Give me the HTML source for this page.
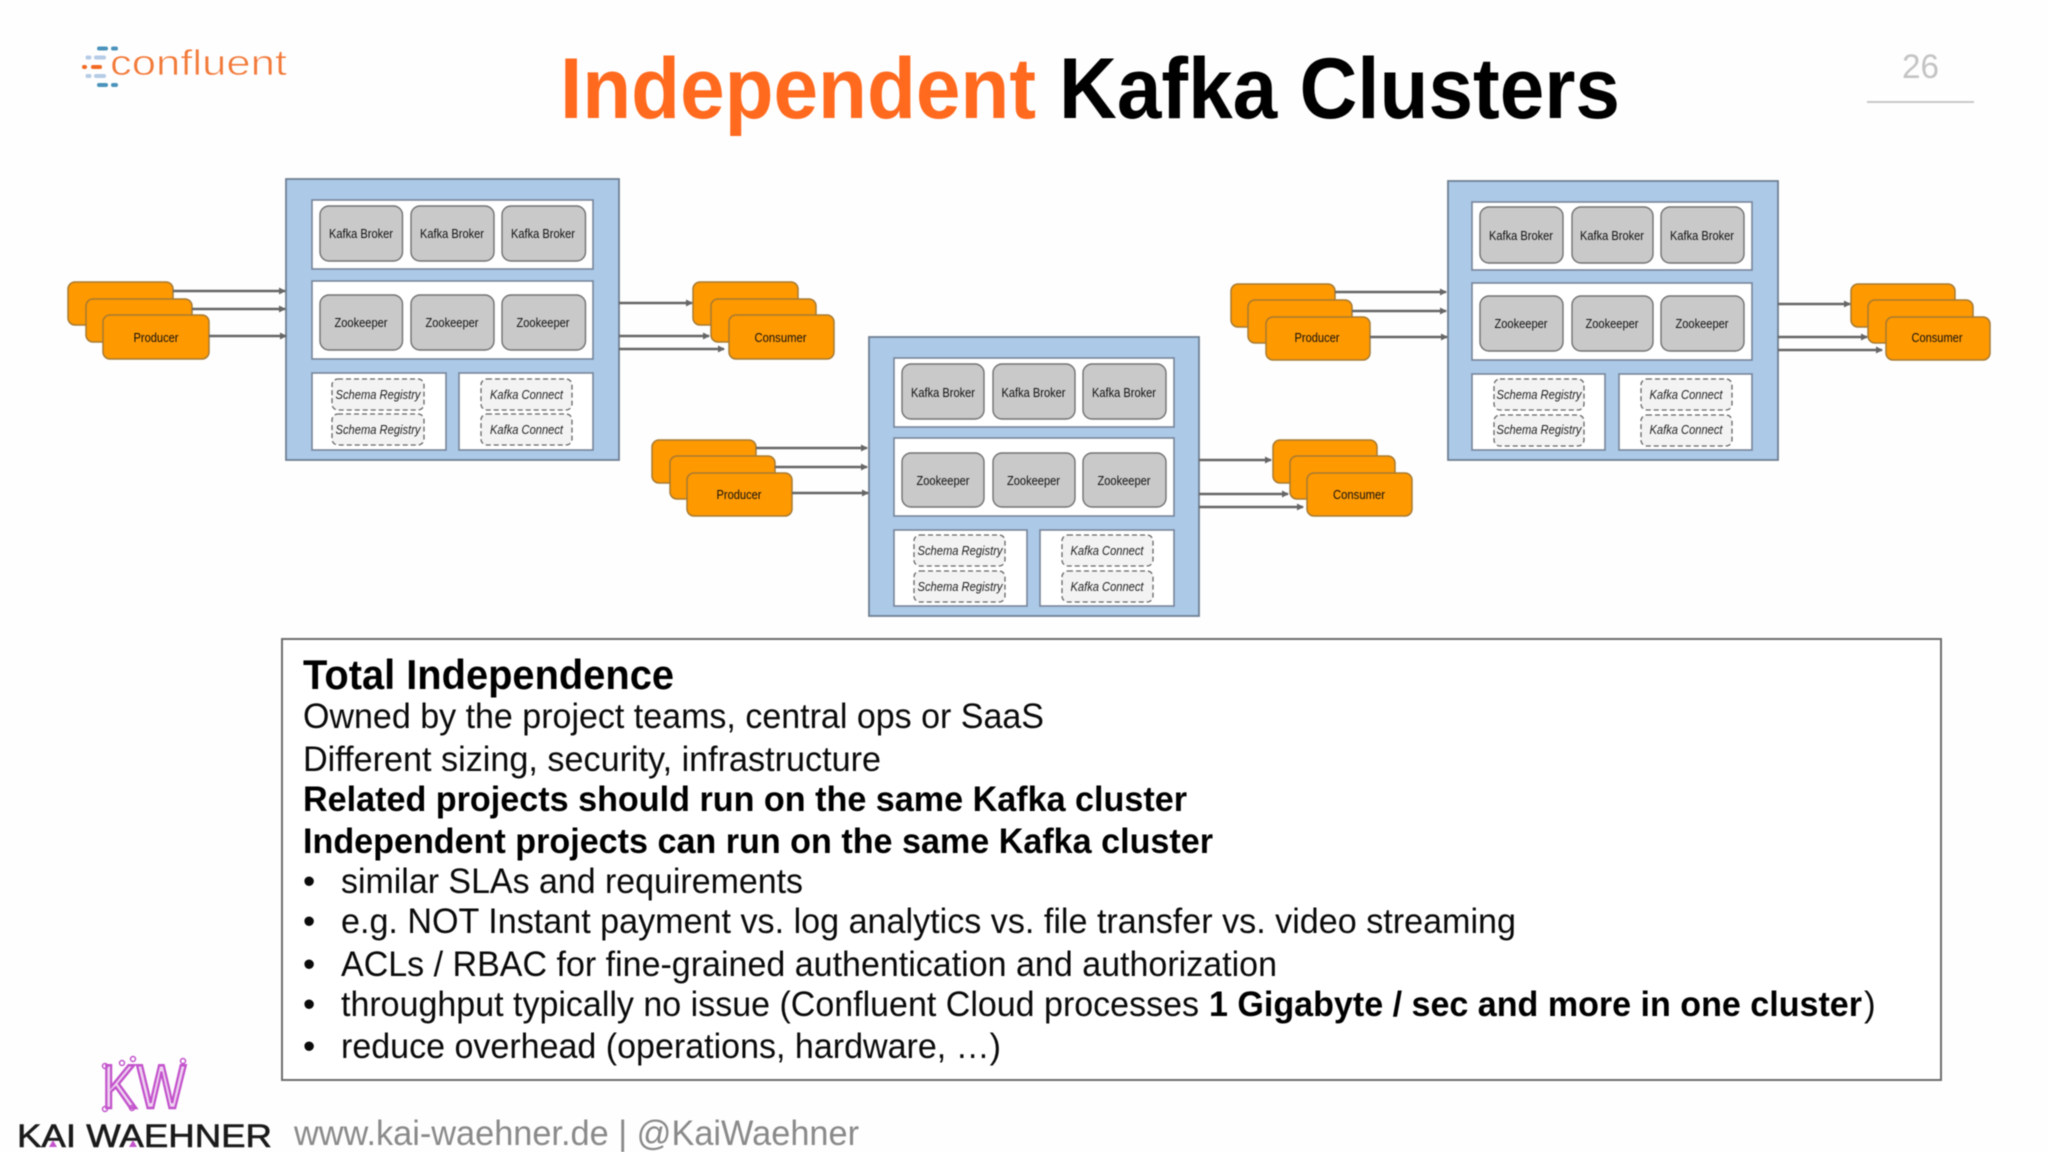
<!DOCTYPE html>
<html><head><meta charset="utf-8"><title>Independent Kafka Clusters</title>
<style>
html,body{margin:0;padding:0;background:#fefefe}
svg{display:block;filter:blur(.45px)}
text{font-family:"Liberation Sans",sans-serif}
.c{fill:#acc9e8;stroke:#6f7f92;stroke-width:1.8}
.p{fill:#fff;stroke:#76859a;stroke-width:1.6}
.n{fill:#c9c9c9;stroke:#727272;stroke-width:1.4}
.d{fill:#f3f3f3;stroke:#666;stroke-width:1.3;stroke-dasharray:5 3}
.o{fill:#ff9900;stroke:#a67a33;stroke-width:1.5}
.a{stroke:#666;stroke-width:2.4;fill:none;marker-end:url(#ah)}
.t{font-size:13px;fill:#111;text-anchor:middle}
.i{font-size:13px;fill:#222;text-anchor:middle;font-style:italic}
.b{font-size:35px;fill:#0a0a0a}
.bb{font-size:35px;fill:#000;font-weight:bold}
</style></head>
<body>
<svg width="2048" height="1152" viewBox="0 0 2048 1152" xmlns="http://www.w3.org/2000/svg">
<defs><marker id="ah" markerWidth="7" markerHeight="8" refX="6" refY="3.5" orient="auto" markerUnits="userSpaceOnUse"><path d="M0 0L7 3.5L0 7z" fill="#666"/></marker></defs>
<rect width="2048" height="1152" fill="#fefefe"/>

<!-- confluent logo -->
<g fill="#4b93bb"><rect x="97" y="46.500" width="11" height="4" rx="2"/><rect x="111" y="46.500" width="7" height="4" rx="2"/><rect x="97" y="83" width="11" height="4" rx="2"/><rect x="111" y="83" width="7" height="4" rx="2"/></g>
<g fill="#b5cbe6"><rect x="85.500" y="55.500" width="6" height="4" rx="2"/><rect x="94" y="55.500" width="12" height="4" rx="2"/><rect x="85.500" y="74" width="6" height="4" rx="2"/><rect x="94" y="74" width="12" height="4" rx="2"/></g>
<g fill="#f26a22"><rect x="82" y="65" width="5" height="4" rx="2"/><rect x="91" y="65" width="11" height="4" rx="2"/></g>
<text x="110" y="75" font-size="36" fill="#f27a3a" stroke="#fff" stroke-width=".7" textLength="177" lengthAdjust="spacingAndGlyphs">confluent</text>

<!-- title -->
<text x="560" y="118" font-size="86" font-weight="bold" fill="#ff6a1f" textLength="476" lengthAdjust="spacingAndGlyphs">Independent</text>
<text x="1059" y="118" font-size="86" font-weight="bold" fill="#000" textLength="561" lengthAdjust="spacingAndGlyphs">Kafka Clusters</text>
<text x="1902" y="78" font-size="34" fill="#c4c4c4" textLength="37" lengthAdjust="spacingAndGlyphs">26</text>
<line x1="1867" y1="102" x2="1974" y2="102" stroke="#c9c9c9" stroke-width="2"/>

<!-- cluster 1 -->
<rect class="c" x="286" y="179" width="333" height="281"/>
<rect class="p" x="312" y="200" width="281" height="69"/>
<rect class="n" x="320" y="206" width="82.500" height="55" rx="9"/>
<rect class="n" x="411" y="206" width="83" height="55" rx="9"/>
<rect class="n" x="502" y="206" width="83.500" height="55" rx="9"/>
<text class="t" x="361" y="238" textLength="64" lengthAdjust="spacingAndGlyphs">Kafka Broker</text>
<text class="t" x="452" y="238" textLength="64" lengthAdjust="spacingAndGlyphs">Kafka Broker</text>
<text class="t" x="543" y="238" textLength="64" lengthAdjust="spacingAndGlyphs">Kafka Broker</text>
<rect class="p" x="312" y="281" width="281" height="78"/>
<rect class="n" x="320" y="295" width="82.500" height="55" rx="9"/>
<rect class="n" x="411" y="295" width="83" height="55" rx="9"/>
<rect class="n" x="502" y="295" width="83.500" height="55" rx="9"/>
<text class="t" x="361" y="327" textLength="53" lengthAdjust="spacingAndGlyphs">Zookeeper</text>
<text class="t" x="452" y="327" textLength="53" lengthAdjust="spacingAndGlyphs">Zookeeper</text>
<text class="t" x="543" y="327" textLength="53" lengthAdjust="spacingAndGlyphs">Zookeeper</text>
<rect class="p" x="312" y="373" width="134" height="77"/>
<rect class="p" x="459" y="373" width="134" height="77"/>
<rect class="d" x="332" y="379" width="92" height="31" rx="6"/>
<rect class="d" x="332" y="414" width="92" height="31" rx="6"/>
<rect class="d" x="481" y="379" width="91" height="31" rx="6"/>
<rect class="d" x="481" y="414" width="91" height="31" rx="6"/>
<text class="i" x="378" y="399" textLength="85" lengthAdjust="spacingAndGlyphs">Schema Registry</text>
<text class="i" x="378" y="434" textLength="85" lengthAdjust="spacingAndGlyphs">Schema Registry</text>
<text class="i" x="526.500" y="399" textLength="73" lengthAdjust="spacingAndGlyphs">Kafka Connect</text>
<text class="i" x="526.500" y="434" textLength="73" lengthAdjust="spacingAndGlyphs">Kafka Connect</text>
<rect class="o" x="68" y="282" width="105" height="43" rx="7"/>
<rect class="o" x="86" y="299" width="106" height="43" rx="7"/>
<rect class="o" x="103" y="315" width="106" height="44" rx="7"/>
<text class="t" x="156" y="342" textLength="45" lengthAdjust="spacingAndGlyphs">Producer</text>
<line class="a" x1="173" y1="291" x2="285" y2="291"/>
<line class="a" x1="192" y1="309" x2="285" y2="309"/>
<line class="a" x1="209" y1="336" x2="286" y2="336"/>
<rect class="o" x="693" y="282" width="105" height="43" rx="7"/>
<rect class="o" x="711" y="299" width="105" height="43" rx="7"/>
<rect class="o" x="729" y="315" width="105" height="44" rx="7"/>
<text class="t" x="780.500" y="342" textLength="52" lengthAdjust="spacingAndGlyphs">Consumer</text>
<line class="a" x1="619" y1="303" x2="692" y2="303"/>
<line class="a" x1="619" y1="336" x2="709" y2="336"/>
<line class="a" x1="619" y1="349" x2="724" y2="349"/>

<!-- cluster 2 -->
<rect class="c" x="869" y="337" width="330" height="279"/>
<rect class="p" x="894" y="358" width="280" height="69"/>
<rect class="n" x="902" y="364" width="82" height="55" rx="9"/>
<rect class="n" x="993" y="364" width="82" height="55" rx="9"/>
<rect class="n" x="1083" y="364" width="83" height="55" rx="9"/>
<text class="t" x="943" y="397" textLength="64" lengthAdjust="spacingAndGlyphs">Kafka Broker</text>
<text class="t" x="1033.500" y="397" textLength="64" lengthAdjust="spacingAndGlyphs">Kafka Broker</text>
<text class="t" x="1124" y="397" textLength="64" lengthAdjust="spacingAndGlyphs">Kafka Broker</text>
<rect class="p" x="894" y="438" width="280" height="78"/>
<rect class="n" x="902" y="453" width="82" height="54" rx="9"/>
<rect class="n" x="993" y="453" width="82" height="54" rx="9"/>
<rect class="n" x="1083" y="453" width="83" height="54" rx="9"/>
<text class="t" x="943" y="485" textLength="53" lengthAdjust="spacingAndGlyphs">Zookeeper</text>
<text class="t" x="1033.500" y="485" textLength="53" lengthAdjust="spacingAndGlyphs">Zookeeper</text>
<text class="t" x="1124" y="485" textLength="53" lengthAdjust="spacingAndGlyphs">Zookeeper</text>
<rect class="p" x="894" y="530" width="133" height="76"/>
<rect class="p" x="1040" y="530" width="134" height="76"/>
<rect class="d" x="914" y="535" width="91" height="31" rx="6"/>
<rect class="d" x="914" y="571" width="91" height="31" rx="6"/>
<rect class="d" x="1062" y="535" width="91" height="31" rx="6"/>
<rect class="d" x="1062" y="571" width="91" height="31" rx="6"/>
<text class="i" x="960" y="555" textLength="85" lengthAdjust="spacingAndGlyphs">Schema Registry</text>
<text class="i" x="960" y="591" textLength="85" lengthAdjust="spacingAndGlyphs">Schema Registry</text>
<text class="i" x="1107" y="555" textLength="73" lengthAdjust="spacingAndGlyphs">Kafka Connect</text>
<text class="i" x="1107" y="591" textLength="73" lengthAdjust="spacingAndGlyphs">Kafka Connect</text>
<rect class="o" x="652" y="440" width="104" height="43" rx="7"/>
<rect class="o" x="670" y="456" width="105" height="43" rx="7"/>
<rect class="o" x="687" y="473" width="105" height="43" rx="7"/>
<text class="t" x="739" y="499" textLength="45" lengthAdjust="spacingAndGlyphs">Producer</text>
<line class="a" x1="756" y1="448" x2="867" y2="448"/>
<line class="a" x1="775" y1="467" x2="867" y2="467"/>
<line class="a" x1="792" y1="493" x2="868" y2="493"/>
<rect class="o" x="1273" y="440" width="104" height="43" rx="7"/>
<rect class="o" x="1290" y="456" width="105" height="43" rx="7"/>
<rect class="o" x="1307" y="473" width="105" height="43" rx="7"/>
<text class="t" x="1359" y="499" textLength="52" lengthAdjust="spacingAndGlyphs">Consumer</text>
<line class="a" x1="1199" y1="460" x2="1271" y2="460"/>
<line class="a" x1="1199" y1="494" x2="1288" y2="494"/>
<line class="a" x1="1199" y1="507" x2="1303" y2="507"/>

<!-- cluster 3 -->
<rect class="c" x="1448" y="181" width="330" height="279"/>
<rect class="p" x="1472" y="202" width="280" height="68"/>
<rect class="n" x="1480" y="207" width="83" height="56" rx="9"/>
<rect class="n" x="1572" y="207" width="81" height="56" rx="9"/>
<rect class="n" x="1661" y="207" width="83" height="56" rx="9"/>
<text class="t" x="1521" y="240" textLength="64" lengthAdjust="spacingAndGlyphs">Kafka Broker</text>
<text class="t" x="1612" y="240" textLength="64" lengthAdjust="spacingAndGlyphs">Kafka Broker</text>
<text class="t" x="1702" y="240" textLength="64" lengthAdjust="spacingAndGlyphs">Kafka Broker</text>
<rect class="p" x="1472" y="283" width="280" height="77"/>
<rect class="n" x="1480" y="296" width="83" height="55" rx="9"/>
<rect class="n" x="1572" y="296" width="81" height="55" rx="9"/>
<rect class="n" x="1661" y="296" width="83" height="55" rx="9"/>
<text class="t" x="1521" y="328" textLength="53" lengthAdjust="spacingAndGlyphs">Zookeeper</text>
<text class="t" x="1612" y="328" textLength="53" lengthAdjust="spacingAndGlyphs">Zookeeper</text>
<text class="t" x="1702" y="328" textLength="53" lengthAdjust="spacingAndGlyphs">Zookeeper</text>
<rect class="p" x="1472" y="374" width="133" height="76"/>
<rect class="p" x="1619" y="374" width="133" height="76"/>
<rect class="d" x="1494" y="379" width="90" height="31" rx="6"/>
<rect class="d" x="1494" y="415" width="90" height="31" rx="6"/>
<rect class="d" x="1641" y="379" width="91" height="31" rx="6"/>
<rect class="d" x="1641" y="415" width="91" height="31" rx="6"/>
<text class="i" x="1539" y="399" textLength="85" lengthAdjust="spacingAndGlyphs">Schema Registry</text>
<text class="i" x="1539" y="434" textLength="85" lengthAdjust="spacingAndGlyphs">Schema Registry</text>
<text class="i" x="1686" y="399" textLength="73" lengthAdjust="spacingAndGlyphs">Kafka Connect</text>
<text class="i" x="1686" y="434" textLength="73" lengthAdjust="spacingAndGlyphs">Kafka Connect</text>
<rect class="o" x="1231" y="284" width="104" height="43" rx="7"/>
<rect class="o" x="1248" y="300" width="104" height="43" rx="7"/>
<rect class="o" x="1266" y="317" width="104" height="43" rx="7"/>
<text class="t" x="1317" y="342" textLength="45" lengthAdjust="spacingAndGlyphs">Producer</text>
<line class="a" x1="1335" y1="292" x2="1446" y2="292"/>
<line class="a" x1="1352" y1="311" x2="1446" y2="311"/>
<line class="a" x1="1370" y1="337" x2="1447" y2="337"/>
<rect class="o" x="1851" y="284" width="104" height="43" rx="7"/>
<rect class="o" x="1868" y="300" width="105" height="43" rx="7"/>
<rect class="o" x="1886" y="317" width="104" height="43" rx="7"/>
<text class="t" x="1937" y="342" textLength="51" lengthAdjust="spacingAndGlyphs">Consumer</text>
<line class="a" x1="1778" y1="304" x2="1850" y2="304"/>
<line class="a" x1="1778" y1="337" x2="1867" y2="337"/>
<line class="a" x1="1778" y1="350" x2="1882" y2="350"/>

<!-- text box -->
<rect x="282" y="639" width="1659" height="441" fill="#fff" stroke="#6e6e6e" stroke-width="2"/>
<text x="303" y="689" font-size="42" font-weight="bold" fill="#000" textLength="371" lengthAdjust="spacingAndGlyphs">Total Independence</text>
<text class="b" x="303" y="728" textLength="741" lengthAdjust="spacingAndGlyphs">Owned by the project teams, central ops or SaaS</text>
<text class="b" x="303" y="771" textLength="578" lengthAdjust="spacingAndGlyphs">Different sizing, security, infrastructure</text>
<text class="bb" x="303" y="811" textLength="884" lengthAdjust="spacingAndGlyphs">Related projects should run on the same Kafka cluster</text>
<text class="bb" x="303" y="853" textLength="910" lengthAdjust="spacingAndGlyphs">Independent projects can run on the same Kafka cluster</text>
<text class="b" x="303" y="893">•</text>
<text class="b" x="341" y="893" textLength="462" lengthAdjust="spacingAndGlyphs">similar SLAs and requirements</text>
<text class="b" x="303" y="933">•</text>
<text class="b" x="341" y="933" textLength="1175" lengthAdjust="spacingAndGlyphs">e.g. NOT Instant payment vs. log analytics vs. file transfer vs. video streaming</text>
<text class="b" x="303" y="976">•</text>
<text class="b" x="341" y="976" textLength="936" lengthAdjust="spacingAndGlyphs">ACLs / RBAC for fine-grained authentication and authorization</text>
<text class="b" x="303" y="1016">•</text>
<text class="b" x="341" y="1016" textLength="858" lengthAdjust="spacingAndGlyphs">throughput typically no issue (Confluent Cloud processes</text>
<text class="bb" x="1209" y="1016" textLength="653" lengthAdjust="spacingAndGlyphs">1 Gigabyte / sec and more in one cluster</text>
<text class="b" x="1864" y="1016">)</text>
<text class="b" x="303" y="1058">•</text>
<text class="b" x="341" y="1058" textLength="660" lengthAdjust="spacingAndGlyphs">reduce overhead (operations, hardware, …)</text>

<!-- Kai Waehner logo -->
<text x="102" y="1108" font-size="62" fill="#c353cc" fill-opacity=".25" stroke="#c353cc" stroke-width="2.600" textLength="84" lengthAdjust="spacingAndGlyphs">KW</text>
<g fill="none" stroke="#c353cc" stroke-width="1.500"><circle cx="105" cy="1066" r="2.500"/><circle cx="122" cy="1063" r="2.500"/><circle cx="133" cy="1059" r="2.500"/><circle cx="183" cy="1061" r="2.500"/><circle cx="105" cy="1109" r="2.500"/><circle cx="132" cy="1108" r="2.500"/></g>
<text x="17" y="1147" font-size="32" fill="#1a1a1a" stroke="#1a1a1a" stroke-width=".6" textLength="255" lengthAdjust="spacingAndGlyphs">KAI WAEHNER</text>
<path d="M49 1147L53 1140L57 1147zM129 1147L133 1140L137 1147z" fill="#c353cc"/>
<text x="294" y="1145" font-size="35" fill="#8a8a8a" textLength="565" lengthAdjust="spacingAndGlyphs">www.kai-waehner.de | @KaiWaehner</text>
</svg>
</body></html>
